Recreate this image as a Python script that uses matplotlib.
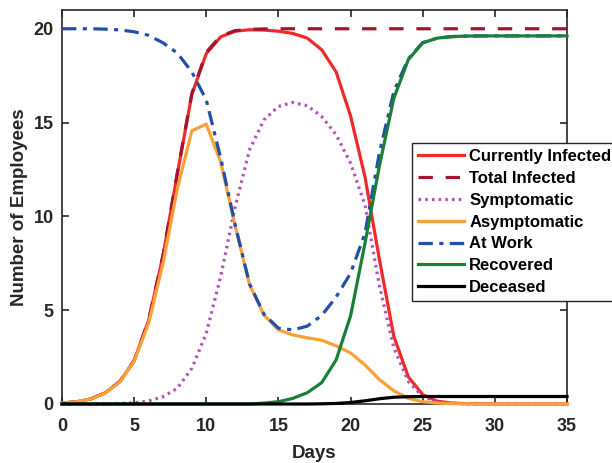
import matplotlib
matplotlib.use("Agg")
import matplotlib.pyplot as plt
import numpy as np

plt.rcParams['font.family'] = ['Liberation Sans', 'DejaVu Sans']
plt.rcParams['font.weight'] = 'bold'

days = list(range(36))

currently_infected = [0.05, 0.12, 0.27, 0.6, 1.19, 2.31, 4.45, 7.9, 12.3, 16.5,
                      18.68, 19.57, 19.87, 19.95, 19.93, 19.87, 19.75, 19.5, 18.88, 17.7,
                      15.35, 12.1, 7.7, 3.6, 1.45, 0.5, 0.15, 0.05, 0.02, 0.01,
                      0.0, 0.0, 0.0, 0.0, 0.0, 0.0]
total_infected = [0.05, 0.12, 0.27, 0.6, 1.19, 2.31, 4.46, 7.92, 12.35, 16.55,
                  18.75, 19.62, 19.9, 19.97, 19.99, 20, 20, 20, 20, 20,
                  20, 20, 20, 20, 20, 20, 20, 20, 20, 20,
                  20, 20, 20, 20, 20, 20]
symptomatic = [0.0, 0.0, 0.0, 0.01, 0.03, 0.06, 0.16, 0.39, 0.84, 1.9,
               3.77, 6.8, 10.5, 13.55, 15.15, 15.86, 16.07, 15.9, 15.32, 14.35,
               12.84, 10.6, 6.3, 3.0, 1.2, 0.4, 0.12, 0.04, 0.01, 0.0,
               0.0, 0.0, 0.0, 0.0, 0.0, 0.0]
asymptomatic = [0.05, 0.12, 0.27, 0.58, 1.17, 2.28, 4.3, 7.5, 11.5, 14.56,
                14.92, 12.9, 9.5, 6.35, 4.75, 3.95, 3.68, 3.53, 3.4, 3.1,
                2.72, 2.08, 1.3, 0.7, 0.3, 0.12, 0.05, 0.02, 0.01, 0.0,
                0.0, 0.0, 0.0, 0.0, 0.0, 0.0]
at_work = [20, 20, 20, 19.98, 19.94, 19.84, 19.65, 19.25, 18.7, 17.7,
           16.2, 13.1, 9.55, 6.4, 4.78, 4.04, 3.95, 4.15, 4.72, 5.7,
           6.97, 9.1, 13.4, 16.66, 18.4, 19.26, 19.5, 19.58, 19.61, 19.62,
           19.62, 19.62, 19.62, 19.62, 19.62, 19.62]
recovered = [0, 0, 0, 0, 0, 0, 0, 0, 0, 0,
             0, 0, 0, 0, 0.05, 0.12, 0.3, 0.6, 1.14, 2.35,
             4.7, 8.57, 12.7, 16.3, 18.35, 19.25, 19.5, 19.58, 19.61, 19.62,
             19.62, 19.62, 19.62, 19.62, 19.62, 19.62]
deceased = [0, 0, 0, 0, 0, 0, 0, 0, 0, 0,
            0, 0, 0, 0, 0, 0, 0, 0, 0.01, 0.03,
            0.08, 0.17, 0.28, 0.36, 0.39, 0.4, 0.4, 0.4, 0.4, 0.4,
            0.4, 0.4, 0.4, 0.4, 0.4, 0.4]

x_ticks = [0, 5, 10, 15, 20, 25, 30, 35]
y_ticks = [0, 5, 10, 15, 20]

fig = plt.figure(figsize=(6.12, 4.63), dpi=100)
ax = fig.add_axes([62/612, 1-404/463, (567-62)/612, (404-10)/463])

lw = 2.3
series = [
    (currently_infected, 'Currently Infected', '#EE2A2A', '-'),
    (total_infected, 'Total Infected', '#A2142F', (0, (4.5, 4.0))),
    (symptomatic, 'Symptomatic', '#B450B4', (0, (0.8, 1.3))),
    (asymptomatic, 'Asymptomatic', '#F9A036', '-'),
    (at_work, 'At Work', '#2150A6', (0, (4.5, 2.0, 1.3, 2.0))),
    (recovered, 'Recovered', '#1A7F38', '-'),
    (deceased, 'Deceased', '#000000', '-'),
]
order = [3, 5, 6, 4, 2, 0, 1]
handles = {}
for i in order:
    vals, lab, col, ls = series[i]
    ln, = ax.plot(days, vals, color=col, linestyle=ls, linewidth=lw,
                  label=lab, clip_on=False, zorder=3 + i * 0.1)
    handles[i] = ln

ax.set_xlim(0, 35)
ax.set_ylim(0, 21)
ax.set_xticks(x_ticks)
ax.set_yticks(y_ticks)
ax.tick_params(direction='in', top=True, right=True, length=5, width=1.2,
               labelsize=13, colors='#262626')
ax.tick_params(axis='x', pad=10)
ax.tick_params(axis='y', pad=6)
for lbl in ax.get_xticklabels() + ax.get_yticklabels():
    lbl.set_fontweight('bold')
for sp in ax.spines.values():
    sp.set_linewidth(1.2)
    sp.set_color('#262626')

ax.set_xlabel('Days', fontsize=13.5, fontweight='bold', color='#262626', labelpad=7)
ax.set_ylabel('Number of Employees', fontsize=13.5, fontweight='bold', color='#262626', labelpad=4)

leg = ax.legend([handles[i] for i in range(7)], [s[1] for s in series],
                loc='upper left', bbox_to_anchor=(411.7/612, 1-143.3/463),
                bbox_transform=fig.transFigure, borderaxespad=0,
                fontsize=12, frameon=True, fancybox=False, edgecolor='#262626',
                framealpha=1, handlelength=2.8, handletextpad=0.3,
                labelspacing=0.41, borderpad=0.35)
leg.get_frame().set_linewidth(1.0)
for t in leg.get_texts():
    t.set_fontweight('bold')
leg.set_zorder(10)

fig.savefig('out.png', dpi=100)
